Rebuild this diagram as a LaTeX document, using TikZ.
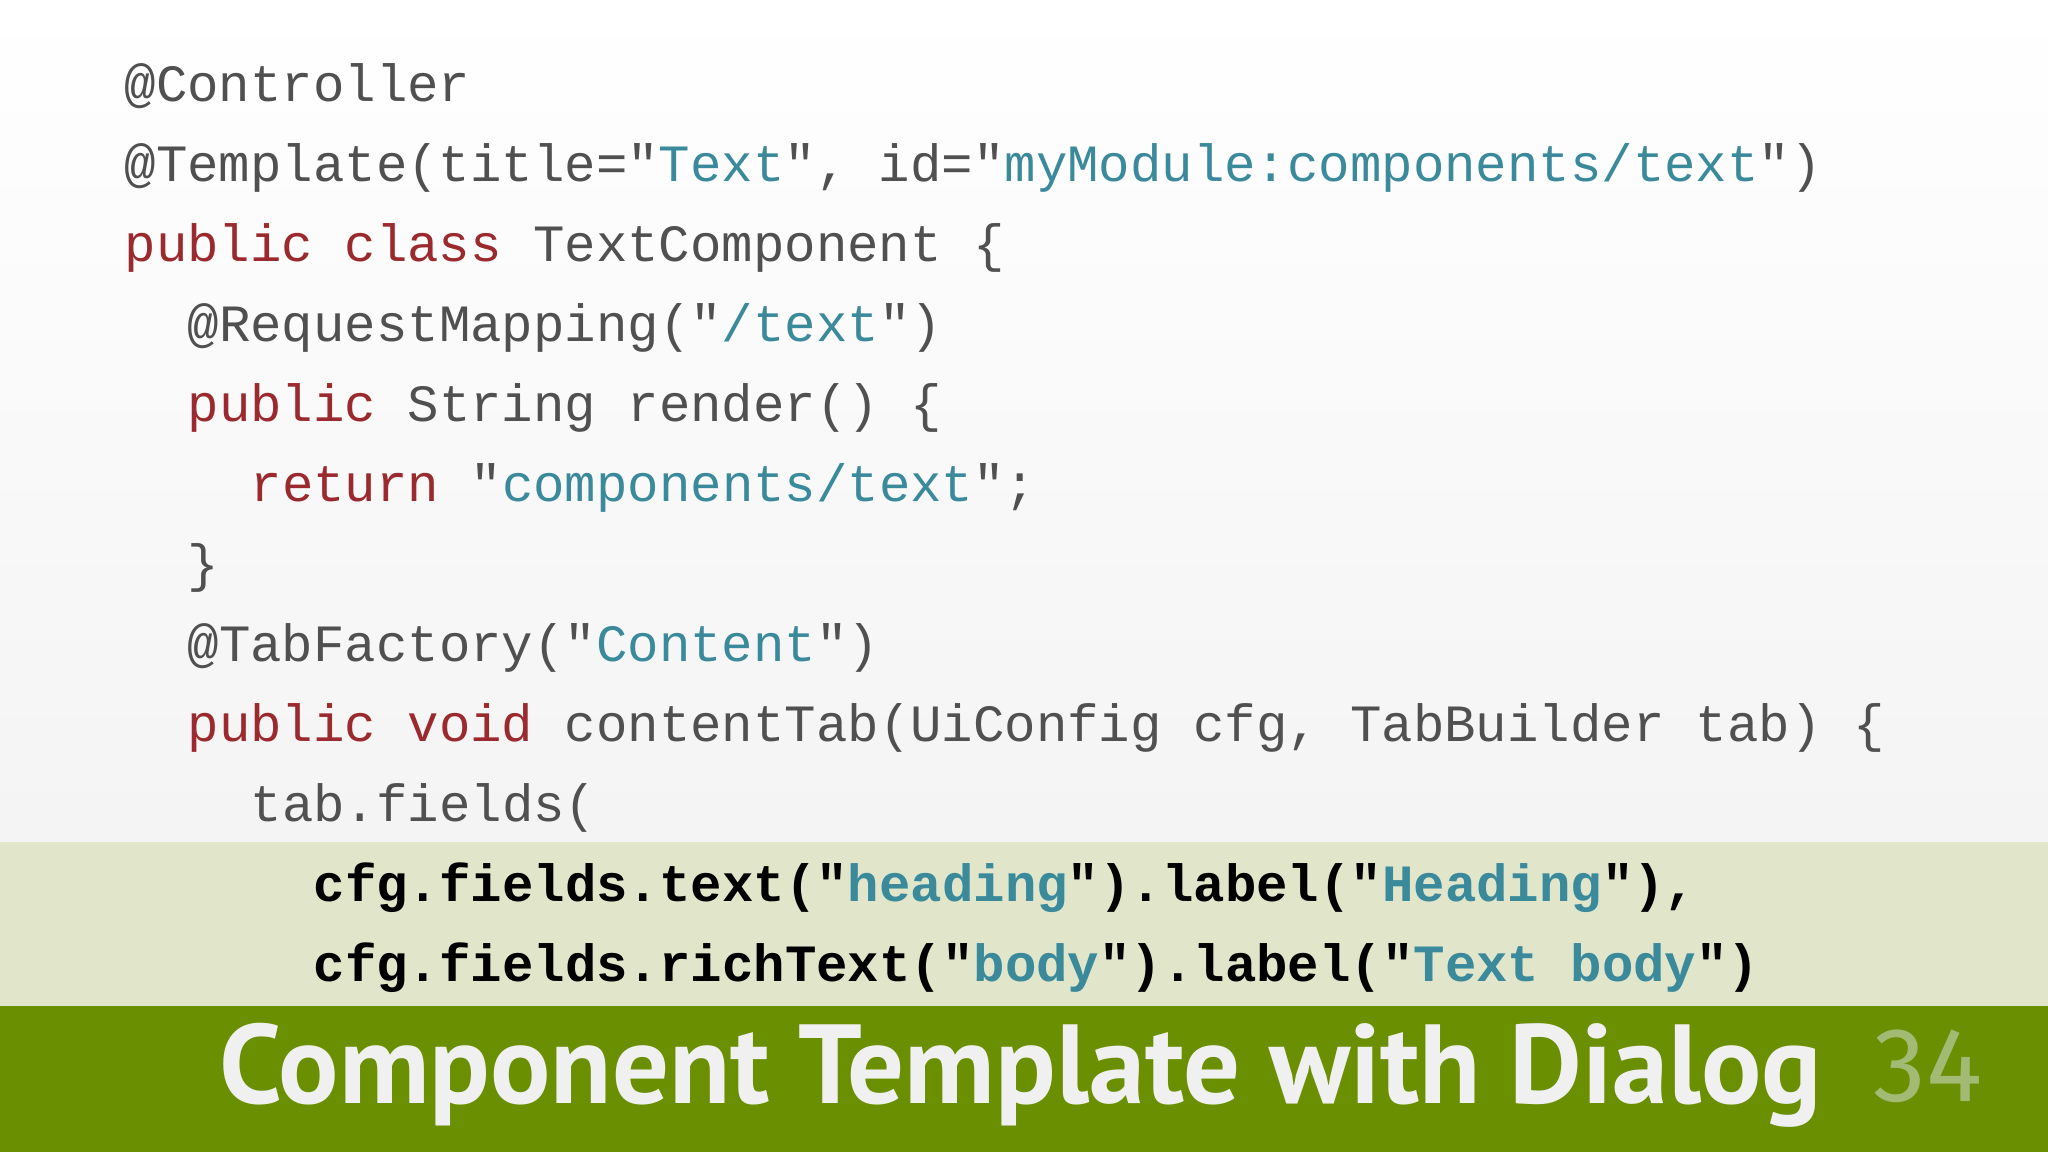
\documentclass[tikz,border=0pt]{standalone}
\usepackage{fontspec}
\setmonofont{Liberation Mono}
\newfontfamily\titlefont{PT Sans}
\newfontfamily\numfont{Fira Sans}
\definecolor{kwc}{HTML}{9B2A2E}
\definecolor{strc}{HTML}{3A8A9C}
\definecolor{txtc}{HTML}{505050}
\definecolor{bandg}{HTML}{6A8F00}
\definecolor{hlc}{HTML}{E1E6CB}
\definecolor{numc}{HTML}{A3BA74}
\newcommand{\kw}[1]{\textcolor{kwc}{#1}}
\newcommand{\st}[1]{\textcolor{strc}{#1}}
\tikzset{code/.style={anchor=base west,inner sep=0pt,text=txtc,font=\fontsize{14.9}{16}\selectfont\ttfamily},
 bcode/.style={code,text=black,font=\fontsize{14.9}{16}\selectfont\ttfamily\bfseries}}
\begin{document}
\begin{tikzpicture}
\useasboundingbox (0,0) rectangle (20.48,11.52);
\shade[top color=white,bottom color=gray!12] (0,0) rectangle (20.48,11.52);
\fill[hlc] (0,1.46) rectangle (20.48,3.10);
\fill[bandg] (0,0) rectangle (20.48,1.46);
\node[code] (l1) at (1.24,10.50) {@Controller};
\node[code] (l2) at (1.24,9.70) {@Template(title="\st{Text}", id="\st{myModule:components/text}")};
\node[code] (l3) at (1.24,8.90) {\kw{public class} TextComponent \{};
\node[code] (l4) at (1.87,8.10) {@RequestMapping("\st{/text}")};
\node[code] (l5) at (1.87,7.30) {\kw{public} String render() \{};
\node[code] (l6) at (2.50,6.50) {\kw{return} "\st{components/text}";};
\node[code] (l7) at (1.87,5.70) {\}};
\node[code] (l8) at (1.87,4.90) {@TabFactory("\st{Content}")};
\node[code] (l9) at (1.87,4.10) {\kw{public void} contentTab(UiConfig cfg, TabBuilder tab) \{};
\node[code] (l10) at (2.50,3.30) {tab.fields(};
\node[bcode] (l11) at (3.13,2.50) {cfg.fields.text("\st{heading}").label("\st{Heading}"),};
\node[bcode] (l12) at (3.13,1.70) {cfg.fields.richText("\st{body}").label("\st{Text body}")};
\node[anchor=base,inner sep=0pt,text=white!94!black,font=\titlefont\fontsize{32}{34}\selectfont\bfseries] (title) at (10.21,0.48) {Component Template with Dialog};
\node[anchor=base,inner sep=0pt,text=numc,font=\numfont\fontsize{30}{34}\selectfont] (num) at (19.28,0.50) {34};
\end{tikzpicture}
\end{document}
